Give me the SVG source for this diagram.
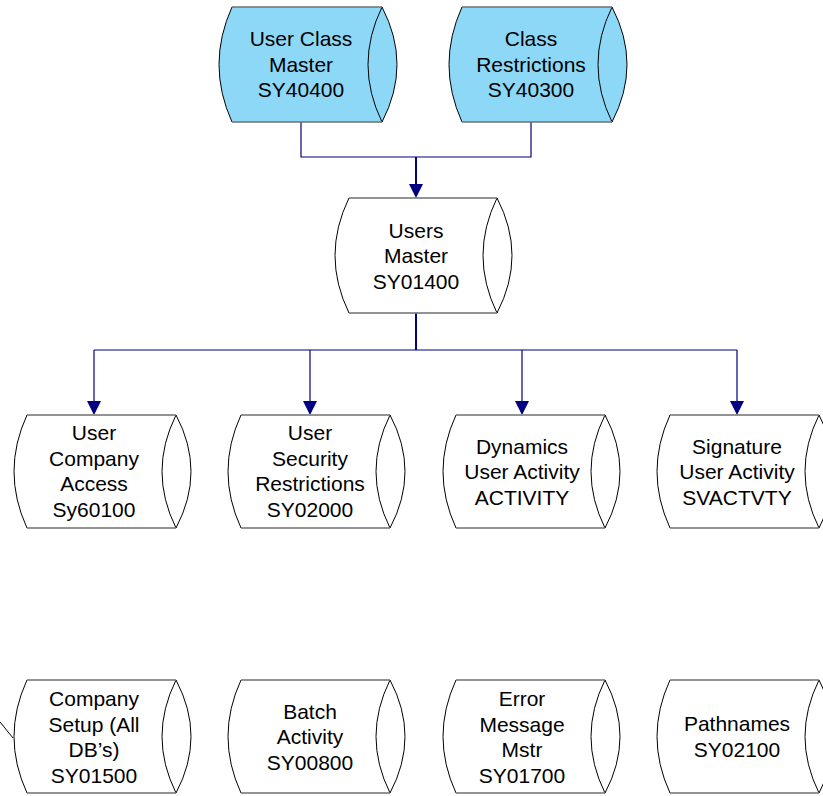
<svg xmlns="http://www.w3.org/2000/svg" width="823" height="796" viewBox="0 0 823 796">
<style>
.fill{fill:#fff;stroke:none}
.blue{fill:#8dd7f7}
.curve{fill:none;stroke:#000;stroke-width:1}
.edge{fill:none;stroke:#707070;stroke-width:1.6}
.conn{fill:none;stroke:#000080;stroke-width:1.2}
.trunk{fill:none;stroke:#000080;stroke-width:2}
.arrow{fill:#000080}
text{font-family:"Liberation Sans",Arial,sans-serif;font-size:21px;fill:#000;text-anchor:middle}
</style>
<rect width="823" height="796" fill="#fff"/>
<g id="connectors">
<path class="conn" d="M301,122V157H531V122"/>
<path class="trunk" d="M416,157V186"/>
<path class="arrow" d="M409,184H423L416,198Z"/>
<path class="trunk" d="M416,313V350"/>
<path class="conn" d="M94,350H737M94,350V403M310,350V403M522,350V403M737,350V403"/>
<path class="arrow" d="M87,401H101L94,415ZM303,401H317L310,415ZM515,401H529L522,415ZM730,401H744L737,415Z"/>
<path class="curve" d="M0,722L13,738"/>
</g>
<g id="n1">
<path class="fill blue" d="M232,7H382Q412,64.5 382,122H232Q206,64.5 232,7Z"/>
<path class="curve" d="M232,7Q206,64.5 232,122M382,7Q412,64.5 382,122M382,7Q354,64.5 382,122"/>
<path class="edge" d="M232,7H382M232,122H382"/>
<text x="301" y="46">User Class</text><text x="301" y="71.5">Master</text><text x="301" y="97">SY40400</text>
</g>
<g id="n2">
<path class="fill blue" d="M462,7H612Q642,64.5 612,122H462Q436,64.5 462,7Z"/>
<path class="curve" d="M462,7Q436,64.5 462,122M612,7Q642,64.5 612,122M612,7Q584,64.5 612,122"/>
<path class="edge" d="M462,7H612M462,122H612"/>
<text x="531" y="46">Class</text><text x="531" y="71.5">Restrictions</text><text x="531" y="97">SY40300</text>
</g>
<g id="n3">
<path class="fill" d="M349,198H497Q527,255.5 497,313H349Q321,255.5 349,198Z"/>
<path class="curve" d="M349,198Q321,255.5 349,313M497,198Q527,255.5 497,313M497,198Q469,255.5 497,313"/>
<path class="edge" d="M349,198H497M349,313H497"/>
<text x="416" y="237.5">Users</text><text x="416" y="263">Master</text><text x="416" y="288.5">SY01400</text>
</g>
<g id="n4">
<path class="fill" d="M27,415H176Q206,471.5 176,528H27Q1,471.5 27,415Z"/>
<path class="curve" d="M27,415Q1,471.5 27,528M176,415Q206,471.5 176,528M176,415Q148,471.5 176,528"/>
<path class="edge" d="M27,415H176M27,528H176"/>
<text x="94" y="440">User</text><text x="94" y="465.5">Company</text><text x="94" y="491">Access</text><text x="94" y="516.5">Sy60100</text>
</g>
<g id="n5">
<path class="fill" d="M241,415H390Q420,471.5 390,528H241Q215,471.5 241,415Z"/>
<path class="curve" d="M241,415Q215,471.5 241,528M390,415Q420,471.5 390,528M390,415Q362,471.5 390,528"/>
<path class="edge" d="M241,415H390M241,528H390"/>
<text x="310" y="440">User</text><text x="310" y="465.5">Security</text><text x="310" y="491">Restrictions</text><text x="310" y="516.5">SY02000</text>
</g>
<g id="n6">
<path class="fill" d="M456,415H605Q635,471.5 605,528H456Q430,471.5 456,415Z"/>
<path class="curve" d="M456,415Q430,471.5 456,528M605,415Q635,471.5 605,528M605,415Q577,471.5 605,528"/>
<path class="edge" d="M456,415H605M456,528H605"/>
<text x="522" y="453.5">Dynamics</text><text x="522" y="479">User Activity</text><text x="522" y="504.5">ACTIVITY</text>
</g>
<g id="n7">
<path class="fill" d="M670,415H819Q849,471.5 819,528H670Q644,471.5 670,415Z"/>
<path class="curve" d="M670,415Q644,471.5 670,528M819,415Q849,471.5 819,528M819,415Q791,471.5 819,528"/>
<path class="edge" d="M670,415H819M670,528H819"/>
<text x="737" y="453.5">Signature</text><text x="737" y="479">User Activity</text><text x="737" y="504.5">SVACTVTY</text>
</g>
<g id="n8">
<path class="fill" d="M27,680H176Q206,736.5 176,793H27Q1,736.5 27,680Z"/>
<path class="curve" d="M27,680Q1,736.5 27,793M176,680Q206,736.5 176,793M176,680Q148,736.5 176,793"/>
<path class="edge" d="M27,680H176M27,793H176"/>
<text x="94" y="706">Company</text><text x="94" y="731.5">Setup (All</text><text x="94" y="757">DB’s)</text><text x="94" y="782.5">SY01500</text>
</g>
<g id="n9">
<path class="fill" d="M241,680H390Q420,736.5 390,793H241Q215,736.5 241,680Z"/>
<path class="curve" d="M241,680Q215,736.5 241,793M390,680Q420,736.5 390,793M390,680Q362,736.5 390,793"/>
<path class="edge" d="M241,680H390M241,793H390"/>
<text x="310" y="718.5">Batch</text><text x="310" y="744">Activity</text><text x="310" y="769.5">SY00800</text>
</g>
<g id="n10">
<path class="fill" d="M456,680H605Q635,736.5 605,793H456Q430,736.5 456,680Z"/>
<path class="curve" d="M456,680Q430,736.5 456,793M605,680Q635,736.5 605,793M605,680Q577,736.5 605,793"/>
<path class="edge" d="M456,680H605M456,793H605"/>
<text x="522" y="706">Error</text><text x="522" y="731.5">Message</text><text x="522" y="757">Mstr</text><text x="522" y="782.5">SY01700</text>
</g>
<g id="n11">
<path class="fill" d="M670,680H819Q849,736.5 819,793H670Q644,736.5 670,680Z"/>
<path class="curve" d="M670,680Q644,736.5 670,793M819,680Q849,736.5 819,793M819,680Q791,736.5 819,793"/>
<path class="edge" d="M670,680H819M670,793H819"/>
<text x="737" y="731">Pathnames</text><text x="737" y="756.5">SY02100</text>
</g>
</svg>
